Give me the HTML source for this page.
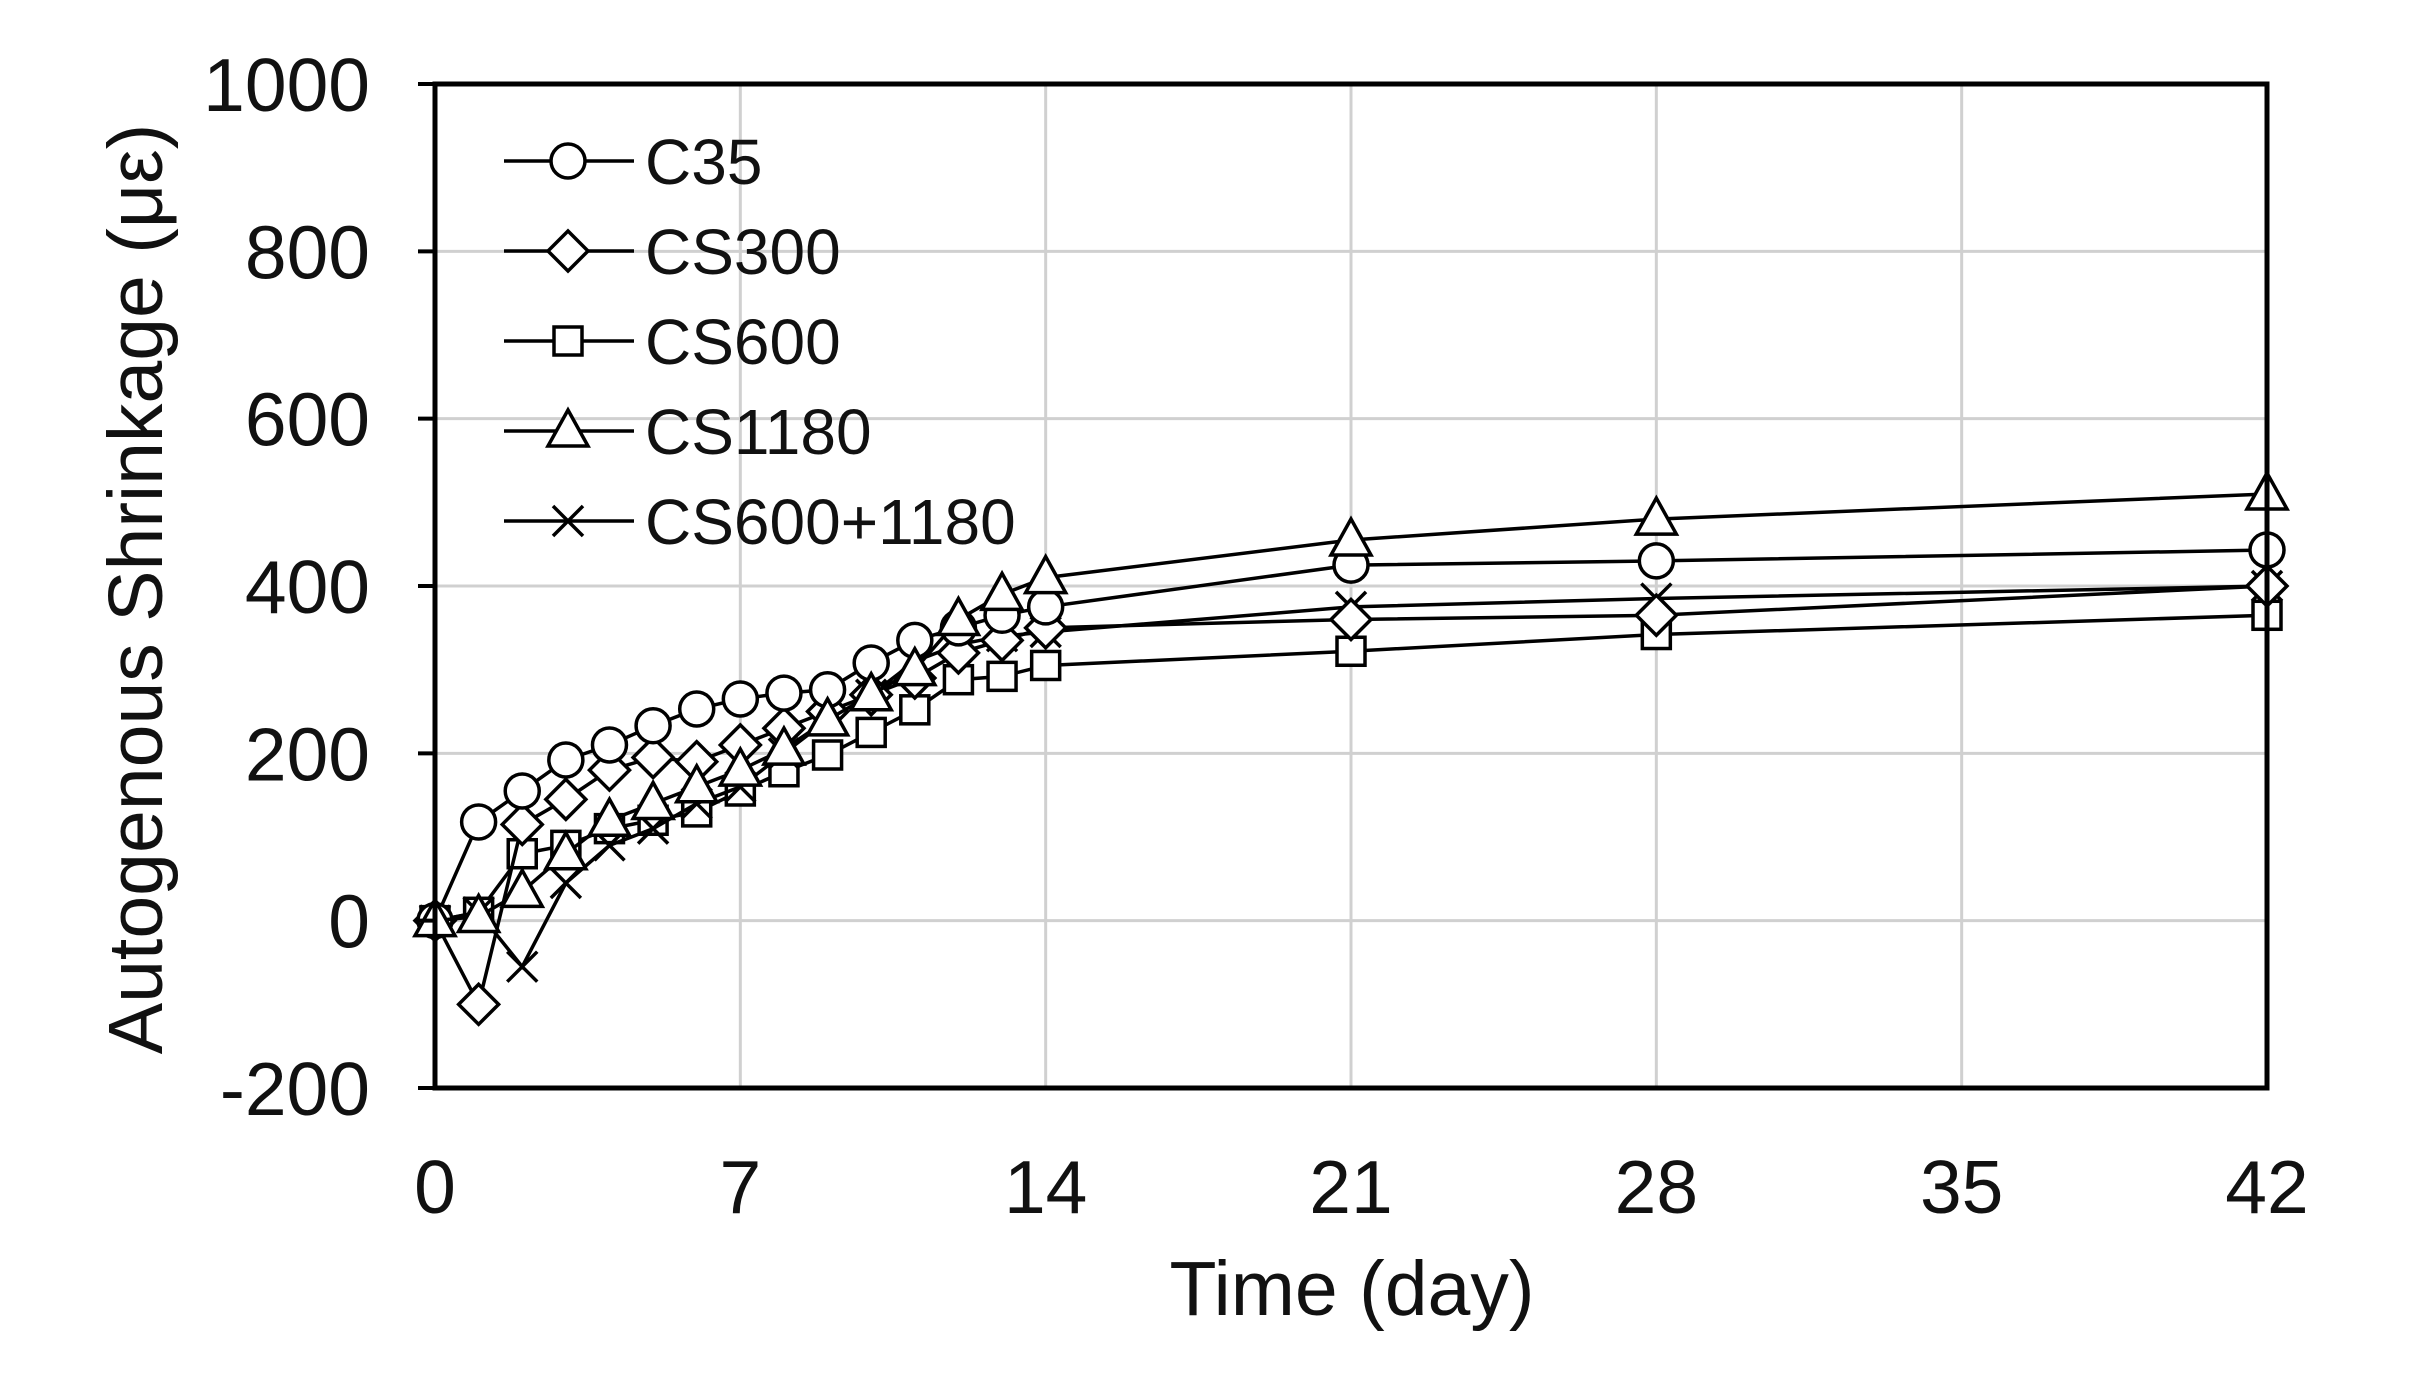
<!DOCTYPE html>
<html><head><meta charset="utf-8"><style>
html,body{margin:0;padding:0;background:#fff;}
svg{display:block;font-family:"Liberation Sans",Arial,sans-serif;}
</style></head><body>
<svg id="s" width="2428" height="1391" xmlns="http://www.w3.org/2000/svg">
<rect width="2428" height="1391" fill="#fff"/>
<g id="grid" stroke="#d0d0d0" stroke-width="3"></g>
<g id="series" fill="none" stroke="#000" stroke-width="3.5"></g>
<rect x="435" y="84" width="1832" height="1004" fill="none" stroke="#000" stroke-width="5"/>
<g id="ticks" stroke="#000" stroke-width="4"></g>
<g id="labels" font-size="75" fill="#111"></g>
<g id="leglabels" font-size="64" fill="#111"></g>
<text x="1352" y="1315" font-size="77" text-anchor="middle" fill="#111">Time (day)</text>
<text transform="translate(162,589) rotate(-90)" font-size="77" text-anchor="middle" fill="#111">Autogenous Shrinkage (με)</text>
<g id="legend" fill="none" stroke="#000" stroke-width="3.5"></g>
</svg>
<script>
const NS="http://www.w3.org/2000/svg";
const X=d=>435+d*1832/42, Y=v=>84+(1000-v)*1004/1200;
function el(p,t,a,txt){const e=document.createElementNS(NS,t);for(const k in a)e.setAttribute(k,a[k]);if(txt!==undefined)e.textContent=txt;p.appendChild(e);return e;}
const g=document.getElementById('grid'),tk=document.getElementById('ticks'),lb=document.getElementById('labels'),ll=document.getElementById('leglabels');
for(let v=-200;v<=1000;v+=200){el(g,'line',{x1:435,x2:2267,y1:Y(v),y2:Y(v)});el(tk,'line',{x1:418,x2:435,y1:Y(v),y2:Y(v)});el(lb,'text',{x:370,y:Y(v)+27,'text-anchor':'end'},v);}
for(let d=0;d<=42;d+=7){el(g,'line',{x1:X(d),x2:X(d),y1:84,y2:1088});el(lb,'text',{x:X(d),y:1213,'text-anchor':'middle'},d);}
const days=[0,1,2,3,4,5,6,7,8,9,10,11,12,13,14,21,28,42];
const data={
c:[0,118,155,192,210,233,253,265,272,276,308,335,350,365,375,425,430,443],
d:[0,-100,115,145,180,195,190,210,230,250,270,290,320,335,350,360,365,400],
s:[0,10,80,90,110,120,130,155,178,198,225,252,288,292,305,322,342,365],
t:[0,5,35,80,120,140,160,180,205,240,270,300,360,390,410,455,480,510],
x:[0,10,-55,45,90,110,140,160,200,240,270,310,330,340,345,375,385,400]};
function marker(p,type,cx,cy){
 const r=17;
 if(type=='c')el(p,'circle',{cx,cy,r,fill:'#fff'});
 else if(type=='d')el(p,'polygon',{points:`${cx},${cy-20} ${cx+20},${cy} ${cx},${cy+20} ${cx-20},${cy}`,fill:'#fff'});
 else if(type=='s')el(p,'rect',{x:cx-14,y:cy-14,width:28,height:28,fill:'#fff'});
 else if(type=='t')el(p,'polygon',{points:`${cx},${cy-21} ${cx+20},${cy+15} ${cx-20},${cy+15}`,fill:'#fff'});
 else {el(p,'line',{x1:cx-15,y1:cy-15,x2:cx+15,y2:cy+15});el(p,'line',{x1:cx-15,y1:cy+15,x2:cx+15,y2:cy-15});}
}
const sg=document.getElementById('series');
for(const k of ['s','x','d','c','t']){
 const pts=days.map((d,i)=>X(d)+','+Y(data[k][i])).join(' ');
 el(sg,'polyline',{points:pts});
 days.forEach((d,i)=>marker(sg,k,X(d),Y(data[k][i])));
}
const lg=document.getElementById('legend');
const names=[['c','C35'],['d','CS300'],['s','CS600'],['t','CS1180'],['x','CS600+1180']];
names.forEach(([k,n],i)=>{const y=161+i*90;el(lg,'line',{x1:504,x2:634,y1:y,y2:y});marker(lg,k,568,y);
 el(ll,'text',{x:645,y:y+23},n);});
</script>
</body></html>
